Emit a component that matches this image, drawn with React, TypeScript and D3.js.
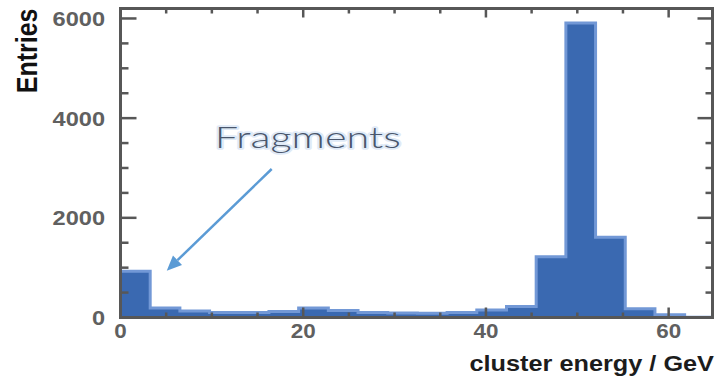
import React from "react";
import * as d3 from "d3";

// ---- data ----
const binEdges = [0, 3.25, 6.5, 9.75, 13, 16.25, 19.5, 22.75, 26, 29.25, 32.5, 35.75, 39, 42.25, 45.5, 48.75, 52, 55.25, 58.5, 61.75, 65];
const counts = [930, 190, 130, 100, 100, 120, 190, 140, 100, 90, 85, 100, 150, 220, 1220, 5910, 1610, 175, 55, 5];
const xMajorTicks = [0, 20, 40, 60];
const xMinorTicks = [5, 10, 15, 25, 30, 35, 45, 50, 55];
const yMajorTicks = [0, 2000, 4000, 6000];
const yMinorTicks = [500, 1000, 1500, 2500, 3000, 3500, 4500, 5000, 5500];
const xTitle = "cluster energy / GeV";
const yTitle = "Entries";
const annotationText = "Fragments";
const annotationTextPos = [20.5, 3400];
const arrowFrom = [16.55, 2980];
const arrowTo = [5.06, 940];

const W = 718;
const H = 378;
const L = 120.5, R = 712.5, T = 8.5, B = 317.5;
const SX = 1.15;

export default function App() {
  const x = d3.scaleLinear().domain([0, 64.8]).range([L, R]);
  const y = d3.scaleLinear().domain([0, 6200]).range([B, T]);

  const pts: [number, number][] = [];
  pts.push([binEdges[0], 0]);
  counts.forEach((c, i) => pts.push([binEdges[i], c]));
  pts.push([binEdges[binEdges.length - 1], counts[counts.length - 1]]);
  pts.push([binEdges[binEdges.length - 1], 0]);

  const line = d3
    .line<[number, number]>()
    .x((d) => x(d[0]))
    .y((d) => y(d[1]))
    .curve(d3.curveStepAfter);
  const area = d3
    .area<[number, number]>()
    .x((d) => x(d[0]))
    .y0(y(0))
    .y1((d) => y(d[1]))
    .curve(d3.curveStepAfter);

  const axisColor = "#575757";
  const labelColor = "#606060";
  const font = "'Liberation Sans', Arial, Helvetica, sans-serif";
  const annFont = "Lato, 'Open Sans', sans-serif";

  // arrow geometry
  const ax0 = x(arrowFrom[0]), ay0 = y(arrowFrom[1]);
  const ax1 = x(arrowTo[0]), ay1 = y(arrowTo[1]);
  const ang = Math.atan2(ay1 - ay0, ax1 - ax0);
  const headLen = 15, headHalf = 6.5;
  const bx = ax1 - headLen * Math.cos(ang), by = ay1 - headLen * Math.sin(ang);
  const px = -Math.sin(ang), py = Math.cos(ang);
  const head = `${ax1},${ay1} ${bx + headHalf * px},${by + headHalf * py} ${bx - headHalf * px},${by - headHalf * py}`;

  return (
    <svg width={W} height={H} style={{ position: "absolute", left: 0, top: 0 }}>
      <defs>
        <clipPath id="plotclip">
          <rect x={L} y={T} width={R - L} height={B - T} />
        </clipPath>
      </defs>
      <rect x={0} y={0} width={W} height={H} fill="#ffffff" />
      <g clipPath="url(#plotclip)">
        <path d={area(pts) || ""} fill="#3a69b1" />
        <path d={line(pts) || ""} fill="none" stroke="#7298d6" strokeWidth={3} />
      </g>

      {/* ticks */}
      {xMajorTicks.map((t) => (
        <g key={"xM" + t}>
          <line x1={x(t)} x2={x(t)} y1={B} y2={B - 10} stroke={axisColor} strokeWidth={2.5} />
          <line x1={x(t)} x2={x(t)} y1={T} y2={T + 9} stroke={axisColor} strokeWidth={2.5} />
        </g>
      ))}
      {xMinorTicks.map((t) => (
        <g key={"xm" + t}>
          <line x1={x(t)} x2={x(t)} y1={B} y2={B - 5} stroke={axisColor} strokeWidth={2.5} />
          <line x1={x(t)} x2={x(t)} y1={T} y2={T + 5} stroke={axisColor} strokeWidth={2.5} />
        </g>
      ))}
      {yMajorTicks.map((t) => (
        <g key={"yM" + t}>
          <line x1={L} x2={L + 16} y1={y(t)} y2={y(t)} stroke={axisColor} strokeWidth={2.5} />
          <line x1={R} x2={R - 15} y1={y(t)} y2={y(t)} stroke={axisColor} strokeWidth={2.5} />
        </g>
      ))}
      {yMinorTicks.map((t) => (
        <g key={"ym" + t}>
          <line x1={L} x2={L + 8} y1={y(t)} y2={y(t)} stroke={axisColor} strokeWidth={2.5} />
          <line x1={R} x2={R - 7} y1={y(t)} y2={y(t)} stroke={axisColor} strokeWidth={2.5} />
        </g>
      ))}

      {/* frame */}
      <rect x={L} y={T} width={R - L} height={B - T} fill="none" stroke={axisColor} strokeWidth={3} />

      {/* tick labels */}
      {xMajorTicks.map((t) => (
        <text
          key={"xl" + t}
          transform={`translate(${x(t)},${B + 20.5}) scale(${SX},1)`}
          textAnchor="middle"
          fontFamily={font}
          fontWeight="bold"
          fontSize={19.5}
          fill={labelColor}
        >
          {t}
        </text>
      ))}
      {yMajorTicks.map((t) => (
        <text
          key={"yl" + t}
          transform={`translate(105,${y(t) + 7.5}) scale(${SX},1)`}
          textAnchor="end"
          fontFamily={font}
          fontWeight="bold"
          fontSize={20.5}
          fill={labelColor}
        >
          {t}
        </text>
      ))}

      {/* axis titles */}
      <text
        transform={`translate(714,371) scale(${SX},1)`}
        textAnchor="end"
        fontFamily={font}
        fontWeight="bold"
        fontSize={22}
        fill="#1c1c1c"
      >
        {xTitle}
      </text>
      <text
        transform={`translate(36.5,8.5) scale(${SX},1) rotate(-90)`}
        textAnchor="end"
        fontFamily={font}
        fontWeight="bold"
        fontSize={25}
        fill="#111111"
      >
        {yTitle}
      </text>

      {/* annotation */}
      <line x1={ax0} y1={ay0} x2={bx} y2={by} stroke="#5b9bd5" strokeWidth={2.5} />
      <polygon points={head} fill="#5b9bd5" />
      <text
        x={x(annotationTextPos[0])}
        y={y(annotationTextPos[1])}
        textAnchor="middle"
        fontFamily={annFont}
        fontWeight={300}
        fontSize={29}
        textLength={186}
        lengthAdjust="spacingAndGlyphs"
        fill="none"
        stroke="#dfeaf7"
        strokeWidth={3.5}
        strokeLinejoin="round"
      >
        {annotationText}
      </text>
      <text
        x={x(annotationTextPos[0])}
        y={y(annotationTextPos[1])}
        textAnchor="middle"
        fontFamily={annFont}
        fontWeight={300}
        fontSize={29}
        textLength={186}
        lengthAdjust="spacingAndGlyphs"
        fill="#4a566c"
      >
        {annotationText}
      </text>
    </svg>
  );
}
